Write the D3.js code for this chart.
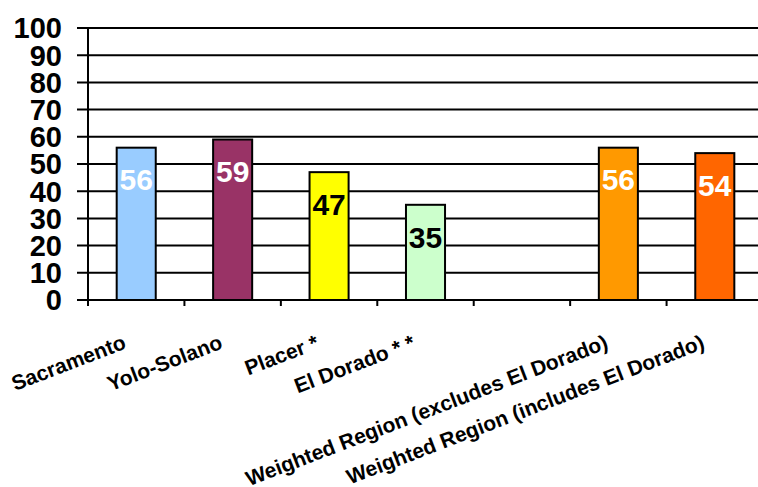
<!DOCTYPE html>
<html>
<head>
<meta charset="utf-8">
<script src="https://cdn.jsdelivr.net/npm/d3@7"></script>
<style>
  body { margin: 0; background: #fff; }
  svg { display: block; font-family: Arial, "Liberation Sans", sans-serif; }
</style>
</head>
<body>
<div id="chart"></div>
<script>
// chart data
var categories = ["Sacramento", "Yolo-Solano", "Placer *", "El Dorado * *", "",
  "Weighted Region (excludes El Dorado)", "Weighted Region (includes El Dorado)"];
var values = [56, 59, 47, 35, null, 56, 54];
var yTicks = [0, 10, 20, 30, 40, 50, 60, 70, 80, 90, 100];

// styling
var barColors = ["#99ccff", "#993366", "#ffff00", "#ccffcc", "none", "#ff9900", "#ff6600"];
var labelColors = ["#fff", "#fff", "#000", "#000", "#000", "#fff", "#fff"];

var width = 758, height = 487;
var plotLeft = 88, plotTop = 28, plotBottom = 300, band = 96.43;

var svg = d3.select("#chart").append("svg")
    .attr("width", width)
    .attr("height", height);

var x = d3.scaleBand()
    .domain(d3.range(categories.length))
    .range([plotLeft, plotLeft + band * categories.length])
    .paddingInner(0.595)
    .paddingOuter(0.2975);

var y = d3.scaleLinear().domain([0, 100]).range([plotBottom, plotTop]);

// gridlines
svg.append("g")
    .selectAll("line")
    .data(yTicks)
    .enter()
    .append("line")
    .attr("x1", plotLeft - 11)
    .attr("x2", width)
    .attr("y1", function (d) { return y(d); })
    .attr("y2", function (d) { return y(d); })
    .attr("stroke", "#000")
    .attr("stroke-width", 2);

// y tick labels
svg.append("g")
    .selectAll("text")
    .data(yTicks)
    .enter()
    .append("text")
    .attr("x", 62)
    .attr("y", function (d) { return y(d); })
    .attr("dy", "0.36em")
    .attr("text-anchor", "end")
    .style("font-size", "29px")
    .style("font-weight", "bold")
    .text(function (d) { return d; });

// y axis line
svg.append("line")
    .attr("x1", plotLeft).attr("x2", plotLeft)
    .attr("y1", y(100)).attr("y2", y(0) + 6)
    .attr("stroke", "#000")
    .attr("stroke-width", 2);

// x ticks at band boundaries
svg.append("g")
    .selectAll("line")
    .data(d3.range(categories.length + 1))
    .enter()
    .append("line")
    .attr("x1", function (i) { return plotLeft + i * band; })
    .attr("x2", function (i) { return plotLeft + i * band; })
    .attr("y1", y(0))
    .attr("y2", y(0) + 6)
    .attr("stroke", "#000")
    .attr("stroke-width", 2);

var idx = d3.range(categories.length).filter(function (i) { return values[i] != null; });

// bars
svg.append("g")
    .selectAll("rect")
    .data(idx)
    .enter()
    .append("rect")
    .attr("x", function (i) { return x(i); })
    .attr("y", function (i) { return y(values[i]); })
    .attr("width", x.bandwidth())
    .attr("height", function (i) { return y(0) - y(values[i]); })
    .attr("fill", function (i) { return barColors[i]; })
    .attr("stroke", "#000")
    .attr("stroke-width", 2);

// value labels
svg.append("g")
    .selectAll("text")
    .data(idx)
    .enter()
    .append("text")
    .attr("x", function (i) { return x(i) + x.bandwidth() / 2; })
    .attr("y", function (i) { return y(values[i]) + 32; })
    .attr("dy", "0.36em")
    .attr("text-anchor", "middle")
    .style("font-size", "30px")
    .style("font-weight", "bold")
    .style("fill", function (i) { return labelColors[i]; })
    .text(function (i) { return values[i]; });

// category labels
svg.append("g")
    .selectAll("text")
    .data(d3.range(categories.length))
    .enter()
    .append("text")
    .attr("transform", function (i) {
        return "translate(" + (x(i) + x.bandwidth() / 2 - 9) + "," + 348 + ") rotate(-21)";
    })
    .attr("text-anchor", "end")
    .style("font-size", "21px")
    .style("font-weight", "bold")
    .text(function (i) { return categories[i]; });
</script>
</body>
</html>
